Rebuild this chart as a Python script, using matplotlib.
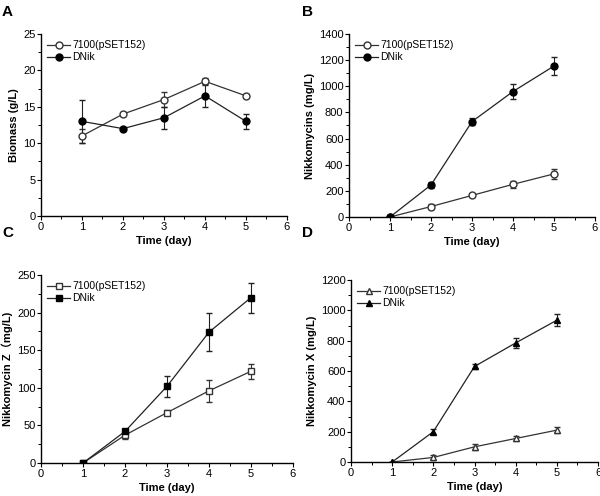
import matplotlib
matplotlib.use('Agg')
import matplotlib.pyplot as plt
from matplotlib.ticker import MultipleLocator

plt.rcParams['font.family'] = ['Liberation Sans', 'Noto Sans CJK SC', 'DejaVu Sans']

days = [1, 2, 3, 4, 5]
labels = ['7100(pSET152)', 'DNik']

# panel A - biomass
bio_ctrl = [11, 14, 16, 18.5, 16.5]
bio_ctrl_err = [1, 0.3, 1, 0.4, 0.3]
bio_dnik = [13, 12, 13.5, 16.5, 13]
bio_dnik_err = [3, 0.2, 1.5, 1.5, 1]

# panel B - total nikkomycins
nik_ctrl = [0, 80, 165, 250, 330]
nik_ctrl_err = [0, 18, 12, 25, 40]
nik_dnik = [0, 245, 730, 960, 1155]
nik_dnik_err = [0, 25, 30, 55, 68]

# panel C - nikkomycin Z
z_ctrl = [0, 37, 67, 96, 122]
z_ctrl_err = [0, 5, 3, 15, 10]
z_dnik = [0, 42, 102, 174, 220]
z_dnik_err = [0, 3, 14, 25, 20]

# panel D - nikkomycin X
x_ctrl = [0, 30, 100, 155, 210]
x_ctrl_err = [0, 18, 18, 15, 20]
x_dnik = [0, 200, 630, 785, 935]
x_dnik_err = [0, 15, 15, 35, 40]

W, H = 600, 496
fig = plt.figure(figsize=(6, 4.96), dpi=100)


def add_panel(box, letter, lpos, ctrl, ctrl_err, dnik, dnik_err, marker, ylim, ystep, yminor, ylabel):
    l, t, r, b = box
    ax = fig.add_axes([l / W, 1 - b / H, (r - l) / W, (b - t) / H])
    c1 = ax.errorbar(days, ctrl, yerr=ctrl_err, color='#333333', marker=marker, mfc='white',
                     mec='#333333', ms=5, lw=0.9, elinewidth=0.8, capsize=2.5)
    c2 = ax.errorbar(days, dnik, yerr=dnik_err, color='#222222', marker=marker, mfc='black',
                     mec='black', ms=5, lw=0.9, elinewidth=0.8, capsize=2.5)
    ax.set_xlim(0, 6)
    ax.set_ylim(*ylim)
    ax.xaxis.set_major_locator(MultipleLocator(1))
    ax.xaxis.set_minor_locator(MultipleLocator(0.5))
    ax.yaxis.set_major_locator(MultipleLocator(ystep))
    ax.yaxis.set_minor_locator(MultipleLocator(yminor))
    for s in ['top', 'right']:
        ax.spines[s].set_visible(False)
    for s in ['left', 'bottom']:
        ax.spines[s].set_linewidth(1.0)
    ax.tick_params(which='major', direction='out', length=3, width=0.8, labelsize=8, pad=1)
    ax.tick_params(which='minor', direction='out', length=2, width=0.7)
    ax.set_xlabel('Time (day)', fontsize=8, fontweight='bold', labelpad=3)
    ax.set_ylabel(ylabel, fontsize=8, fontweight='bold', labelpad=3)
    ax.legend([c1[0], c2[0]], labels, loc='upper left', frameon=False, fontsize=7.5,
              handlelength=2.2, handletextpad=0.2, borderaxespad=0.2, labelspacing=0.2)
    fig.text(lpos[0] / W, 1 - lpos[1] / H, letter, fontsize=11, fontweight='bold',
             ha='left', va='center')
    return ax


add_panel((41, 34, 287, 216), 'A', (2, 12), bio_ctrl, bio_ctrl_err, bio_dnik, bio_dnik_err,
          'o', (0, 25), 5, 2.5, 'Biomass (g/L)')
add_panel((349, 34, 595, 217), 'B', (302, 12), nik_ctrl, nik_ctrl_err, nik_dnik, nik_dnik_err,
          'o', (0, 1400), 200, 100, 'Nikkomycins (mg/L)')
add_panel((41, 275, 293, 463), 'C', (2, 233), z_ctrl, z_ctrl_err, z_dnik, z_dnik_err,
          's', (0, 250), 50, 25, 'Nikkomycin Z\uff08mg/L)')
add_panel((351, 280, 598, 462), 'D', (302, 233), x_ctrl, x_ctrl_err, x_dnik, x_dnik_err,
          '^', (0, 1200), 200, 100, 'Nikkomycin X (mg/L)')

fig.savefig('out.png', dpi=100)
